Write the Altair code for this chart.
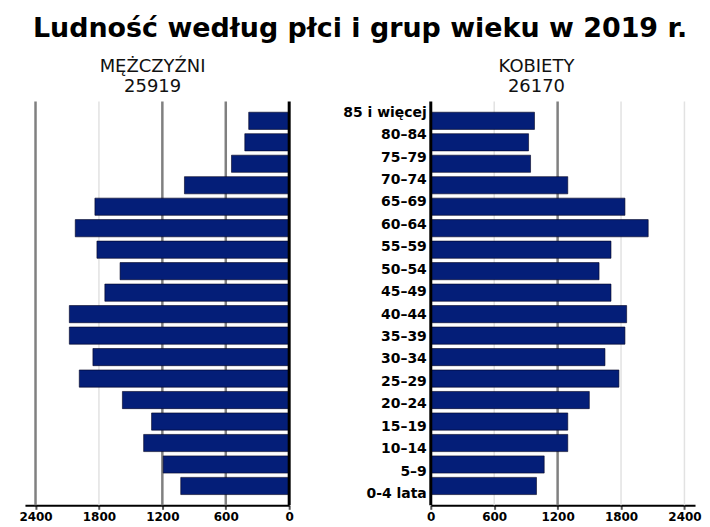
import altair as alt
import pandas as pd

title_text = "Ludność według płci i grup wieku w 2019 r."
ages = ["85 i więcej", "80–84", "75–79", "70–74", "65–69", "60–64", "55–59",
        "50–54", "45–49", "40–44", "35–39", "30–34", "25–29", "20–24",
        "15–19", "10–14", "5–9", "0-4 lata"]
men = [383, 420, 546, 991, 1838, 2024, 1819, 1600, 1744, 2080, 2080, 1857,
       1986, 1578, 1302, 1377, 1192, 1026]
women = [981, 925, 944, 1296, 1837, 2057, 1705, 1592, 1705, 1853, 1837, 1648,
         1780, 1500, 1296, 1296, 1073, 1000]
sex_labels = ["MĘŻCZYŹNI", "KOBIETY"]
totals = ["25919", "26170"]
tick_values = [0, 600, 1200, 1800, 2400]
grid_dark_left = [600, 1200, 2400]
grid_light_left = [1800]
grid_dark_right = [1200]
grid_light_right = [600, 1800, 2400]

PW = 265
PH = 405
BAR = "#041E78"

ys = alt.Scale(domain=ages, paddingInner=0.2, paddingOuter=0.5)


def make_axis():
    return alt.Axis(values=tick_values, title=None, grid=False, format="d",
                    domainColor="black", domainWidth=2,
                    tickColor="#555555", tickWidth=2, tickSize=4,
                    labelFont="DejaVu Sans", labelFontWeight="bold",
                    labelFontSize=12, labelColor="black", labelPadding=2,
                    labelFlush=False, labelOverlap=False)


def panel(values, reverse, dark, light, label, total, cx):
    xs = alt.Scale(domain=[0, 2500], reverse=reverse, nice=False, zero=True)
    df = pd.DataFrame({"age": ages, "value": values})
    light_rules = alt.Chart(pd.DataFrame({"v": light})).mark_rule(
        color="#e2e2e2", strokeWidth=1.5).encode(
        x=alt.X("v:Q", scale=xs, axis=make_axis()))
    dark_rules = alt.Chart(pd.DataFrame({"v": dark})).mark_rule(
        color="#808080", strokeWidth=2.5).encode(
        x=alt.X("v:Q", scale=xs, axis=make_axis()))
    bars = alt.Chart(df).mark_bar(color=BAR, stroke="#000020",
                                  strokeWidth=0.6).encode(
        x=alt.X("value:Q", scale=xs, axis=make_axis()),
        y=alt.Y("age:N", scale=ys, sort=None, axis=None))
    zero = alt.Chart(pd.DataFrame({"v": [0]})).mark_rule(
        color="black", strokeWidth=3).encode(
        x=alt.X("v:Q", scale=xs, axis=make_axis()))
    t1 = alt.Chart(pd.DataFrame({"t": [label]})).mark_text(
        font="DejaVu Sans", fontSize=18, color="#111111", align="center",
        baseline="alphabetic").encode(
        x=alt.value(cx), y=alt.value(-30), text="t:N")
    t2 = alt.Chart(pd.DataFrame({"t": [total]})).mark_text(
        font="DejaVu Sans", fontSize=18, color="#111111", align="center",
        baseline="alphabetic").encode(
        x=alt.value(cx), y=alt.value(-10), text="t:N")
    return alt.layer(light_rules, dark_rules, bars, zero, t1, t2).properties(
        width=PW, height=PH)


left = panel(men, True, grid_dark_left, grid_light_left,
             sex_labels[0], totals[0], 128)
right = panel(women, False, grid_dark_right, grid_light_right,
              sex_labels[1], totals[1], 106)

mid = alt.Chart(pd.DataFrame({"age": ages})).mark_text(
    align="right", baseline="middle", font="DejaVu Sans",
    fontWeight="bold", fontSize=14, color="black").encode(
    y=alt.Y("age:N", scale=ys, sort=None, axis=None),
    x=alt.value(138), text="age:N").properties(width=142, height=PH)

chart = alt.hconcat(left, mid, right, spacing=0, bounds="flush").properties(
    title=alt.TitleParams(title_text, font="DejaVu Sans", fontSize=27,
                          fontWeight="bold", anchor="middle", offset=15,
                          color="black"),
    padding={"left": 10, "right": 0, "top": 6, "bottom": 0},
).configure_view(stroke=None)

chart.save("out.html", embed_options={"renderer": "svg", "actions": False})
